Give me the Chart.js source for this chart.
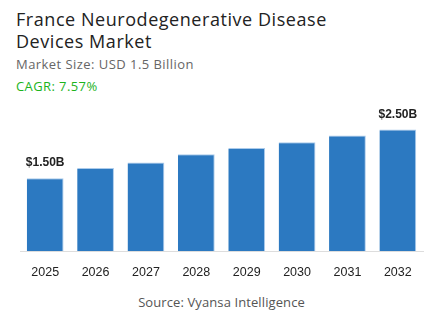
<!DOCTYPE html>
<html>
<head>
<meta charset="utf-8">
<script src="https://cdn.jsdelivr.net/npm/chart.js@4.4.1/dist/chart.umd.min.js"></script>
<style>
  html, body { margin: 0; padding: 0; background: #fff; }
  body { width: 443px; height: 332px; position: relative; overflow: hidden; font-family: "Open Sans", sans-serif; }
  .title { position: absolute; left: 16px; top: 8px; font-size: 18px; line-height: 22px; color: #222; letter-spacing: 0.55px; }
  .size { position: absolute; left: 16px; top: 55px; font-size: 13px; color: #666; letter-spacing: 0.45px; }
  .cagr { position: absolute; left: 16px; top: 77px; font-size: 13px; color: #1db41d; letter-spacing: 0.4px; }
  .source { position: absolute; left: 0; width: 443px; top: 293px; text-align: center; font-size: 13px; color: #555; letter-spacing: 0.1px; }
  #wrap { position: absolute; left: 0; top: 100px; width: 443px; height: 190px; }
</style>
</head>
<body>
<div class="title">France Neurodegenerative Disease<br>Devices Market</div>
<div class="size">Market Size: USD 1.5 Billion</div>
<div class="cagr">CAGR: 7.57%</div>
<div id="wrap"><canvas id="chart"></canvas></div>
<div class="source">Source: Vyansa Intelligence</div>
<script>
const years = ["2025", "2026", "2027", "2028", "2029", "2030", "2031", "2032"];
const marketSize = [1.50, 1.71, 1.82, 1.99, 2.12, 2.24, 2.38, 2.50];
const labelled = ["$1.50B", "", "", "", "", "", "", "$2.50B"];

// draws the value text above the first and last bar
const endLabels = {
  id: "endLabels",
  afterDatasetsDraw(chart) {
    const ctx = chart.ctx;
    const bars = chart.getDatasetMeta(0).data;
    ctx.save();
    ctx.font = "bold 12px 'Liberation Sans', Arial, sans-serif";
    ctx.fillStyle = "#222";
    ctx.textAlign = "center";
    ctx.textBaseline = "bottom";
    bars.forEach((bar, i) => {
      if (!labelled[i]) return;
      ctx.fillText(labelled[i], bar.x, bar.y - 9);
    });
    ctx.restore();
  },
};

new Chart(document.getElementById("chart").getContext("2d"), {
  type: "bar",
  data: {
    labels: years,
    datasets: [{
      data: marketSize,
      backgroundColor: "#2c79c1",
      borderColor: "rgba(150,190,230,0.8)",
      borderWidth: { top: 1, right: 1, left: 0, bottom: 0 },
      barPercentage: 0.73,
      categoryPercentage: 1,
    }],
  },
  options: {
    responsive: true,
    maintainAspectRatio: false,
    animation: false,
    layout: { padding: { left: 20, right: 20, top: 15, bottom: 4 } },
    plugins: { legend: { display: false }, tooltip: { enabled: false } },
    scales: {
      x: {
        grid: { display: false },
        border: { display: true, color: "#dddddd", width: 1 },
        ticks: { color: "#222", padding: 6, font: { family: "'Liberation Sans', Arial, sans-serif", size: 12.5 } },
      },
      y: { display: false, min: 0, max: 2.8 },
    },
  },
  plugins: [endLabels],
});
</script>
</body>
</html>
